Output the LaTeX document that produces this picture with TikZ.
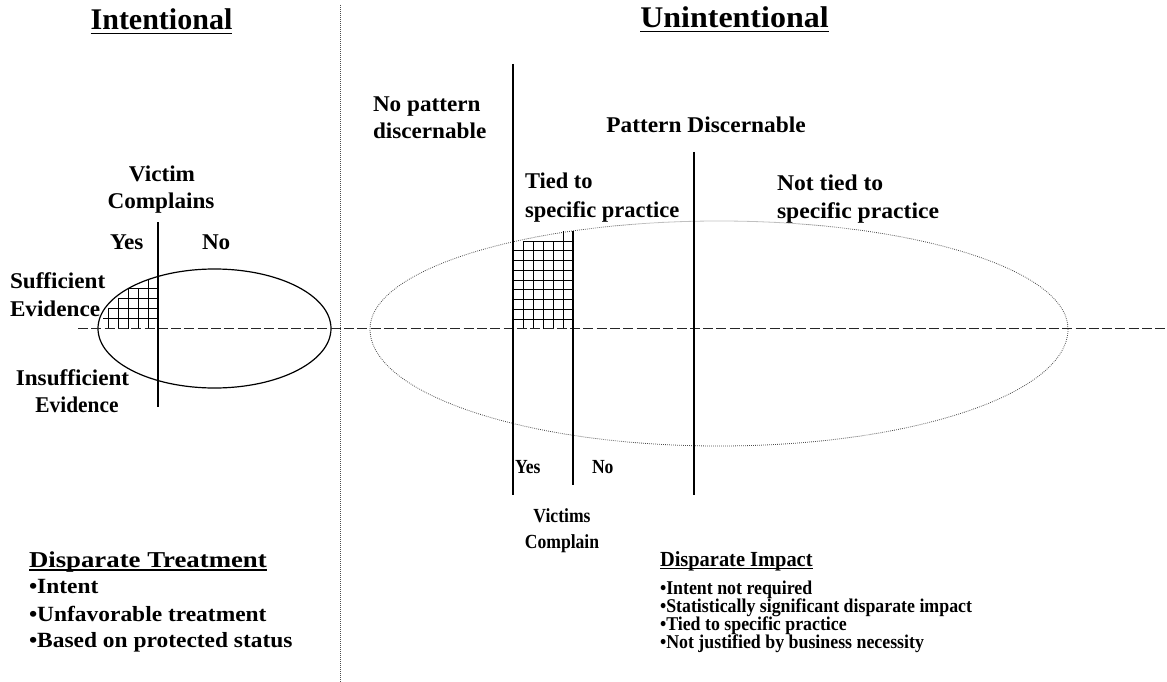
\documentclass[tikz,border=0pt]{standalone}
\usepackage{fontspec}
\setmainfont{Liberation Serif}
\usepackage{graphicx}
\newcommand\mytx[3]{\fontsize{#1}{#1}\selectfont\scalebox{#2}[1]{#3}}
\begin{document}
\begin{tikzpicture}[x=1pt,y=-1pt,
  lbl/.style={inner sep=0pt, outer sep=0pt, font=\bfseries},
  axisline/.style={line width=1.3pt},
  uline/.style={line width=1.7pt},
  gridline/.style={line width=1pt},
  dashline/.style={line width=1.5pt, dash pattern=on 10pt off 3.3pt, black!85},
  dotline/.style={line width=0.8pt, dash pattern=on 0.8pt off 1.2pt, black!70}]
\useasboundingbox (0,0) rectangle (1167,682);

% divider
\coordinate (divT) at (340,5);
\coordinate (divB) at (340,682);
\draw[dotline] (divT) -- (divB);

% left ellipse
\draw[line width=1.2pt] (214.5,328.5) ellipse [x radius=116.5pt, y radius=59.5pt];

% right ellipse (dotted)
\coordinate (reR) at (1068,329);
\coordinate (reL) at (370,329);
\draw[dotline] (reR) arc[start angle=0, end angle=180, x radius=349pt, y radius=108pt]
               arc[start angle=180, end angle=360, x radius=349pt, y radius=117pt];

% left grid
\foreach \xa/\ya in {128/288.5, 118/298.5, 108/308.5, 103/318.5}
  \draw[gridline] (\xa,\ya) -- (158,\ya);
\foreach \xa/\ya in {108/308.5, 118/298.5, 128/288.5, 138/288.5, 148/280}
  \draw[gridline] (\xa,\ya) -- (\xa,328.5);

% right grid
\draw[gridline] (523,241) -- (573,241);
\foreach \k in {1,...,8}
  \draw[gridline] (513,241+9.78*\k) -- (573,241+9.78*\k);
\foreach \xa in {523,533,543,553}
  \draw[gridline] (\xa,241) -- (\xa,329);
\draw[gridline] (563,231) -- (563,329);

% dashed axis
\coordinate (dashL) at (78,328.5);
\coordinate (dashR) at (1167,328.5);
\draw[dashline] (dashL) -- (dashR);

% vertical axes
\coordinate (v1t) at (158,222); \coordinate (v1b) at (158,407);
\coordinate (v2t) at (513,64);  \coordinate (v2b) at (513,495);
\coordinate (v3t) at (573,231); \coordinate (v3b) at (573,485);
\coordinate (v4t) at (694,152); \coordinate (v4b) at (694,495);
\draw[axisline] (v1t) -- (v1b);
\draw[axisline] (v2t) -- (v2b);
\draw[axisline] (v3t) -- (v3b);
\draw[axisline] (v4t) -- (v4b);

% titles
\node[lbl, anchor=base] (TI) at (161.5,30) {\mytx{30}{1}{Intentional}};
\draw[uline] ([yshift=-3.5pt]TI.base west) -- ([yshift=-3.5pt]TI.base east);
\node[lbl, anchor=base] (TU) at (734.5,28) {\mytx{30}{1.066}{Unintentional}};
\draw[uline] ([yshift=-3.5pt]TU.base west) -- ([yshift=-3.5pt]TU.base east);

% left labels
\node[lbl, anchor=base] (vc1) at (162,182) {\mytx{22.5}{1.03}{Victim}};
\node[lbl, anchor=base] (vc2) at (161,208) {\mytx{22.5}{1.03}{Complains}};
\node[lbl, anchor=base west] (ly) at (110,249) {\mytx{22.5}{1.03}{Yes}};
\node[lbl, anchor=base west] (ln) at (202,249) {\mytx{22.5}{1.03}{No}};
\node[lbl, anchor=base west] (se1) at (10,288) {\mytx{22.5}{1.03}{Sufficient}};
\node[lbl, anchor=base west] (se2) at (10,316) {\mytx{22.5}{1.03}{Evidence}};
\node[lbl, anchor=base] (ie1) at (72.5,385) {\mytx{22.5}{1.03}{Insufficient}};
\node[lbl, anchor=base] (ie2) at (77,412) {\mytx{22.5}{0.95}{Evidence}};

% right top labels
\node[lbl, anchor=base west] (np1) at (373,112) {\mytx{22.5}{1.03}{No pattern}};
\node[lbl, anchor=base west] (np2) at (373,139) {\mytx{22.5}{1.03}{discernable}};
\node[lbl, anchor=base] (pd) at (706,132) {\mytx{22.5}{1.04}{Pattern Discernable}};
\node[lbl, anchor=base west] (td1) at (525,188) {\mytx{22.5}{1}{Tied to}};
\node[lbl, anchor=base west] (td2) at (525,217) {\mytx{22.5}{1}{specific practice}};
\node[lbl, anchor=base west] (nt1) at (777,190) {\mytx{22.5}{1.05}{Not tied to}};
\node[lbl, anchor=base west] (nt2) at (777,218) {\mytx{22.5}{1.05}{specific practice}};

% bottom labels
\node[lbl, anchor=base west] (by) at (515,473) {\mytx{20}{0.88}{Yes}};
\node[lbl, anchor=base west] (bn) at (592,473) {\mytx{20}{0.88}{No}};
\node[lbl, anchor=base] (vs1) at (562,522) {\mytx{20}{0.88}{Victims}};
\node[lbl, anchor=base] (vs2) at (562,548) {\mytx{20}{0.88}{Complain}};

% Disparate Treatment
\node[lbl, anchor=base west] (dt) at (29,567) {\mytx{22.7}{1.18}{Disparate Treatment}};
\draw[uline] ([yshift=-3pt]dt.base west) -- ([yshift=-3pt]dt.base east);
\node[lbl, anchor=base west] (dt1) at (29,593) {\mytx{21.7}{1.08}{•Intent}};
\node[lbl, anchor=base west] (dt2) at (29,621) {\mytx{21.7}{1.08}{•Unfavorable treatment}};
\node[lbl, anchor=base west] (dt3) at (29,647) {\mytx{21.7}{1.08}{•Based on protected status}};

% Disparate Impact
\node[lbl, anchor=base west] (di) at (660,566) {\mytx{21.5}{0.95}{Disparate Impact}};
\draw[uline] ([yshift=-2.5pt]di.base west) -- ([yshift=-2.5pt]di.base east);
\node[lbl, anchor=base west] (di1) at (660,594) {\mytx{19.5}{0.915}{•Intent not required}};
\node[lbl, anchor=base west] (di2) at (660,612) {\mytx{19.5}{0.915}{•Statistically significant disparate impact}};
\node[lbl, anchor=base west] (di3) at (660,630) {\mytx{19.5}{0.915}{•Tied to specific practice}};
\node[lbl, anchor=base west] (di4) at (660,648) {\mytx{19.5}{0.915}{•Not justified by business necessity}};
\end{tikzpicture}
\end{document}
